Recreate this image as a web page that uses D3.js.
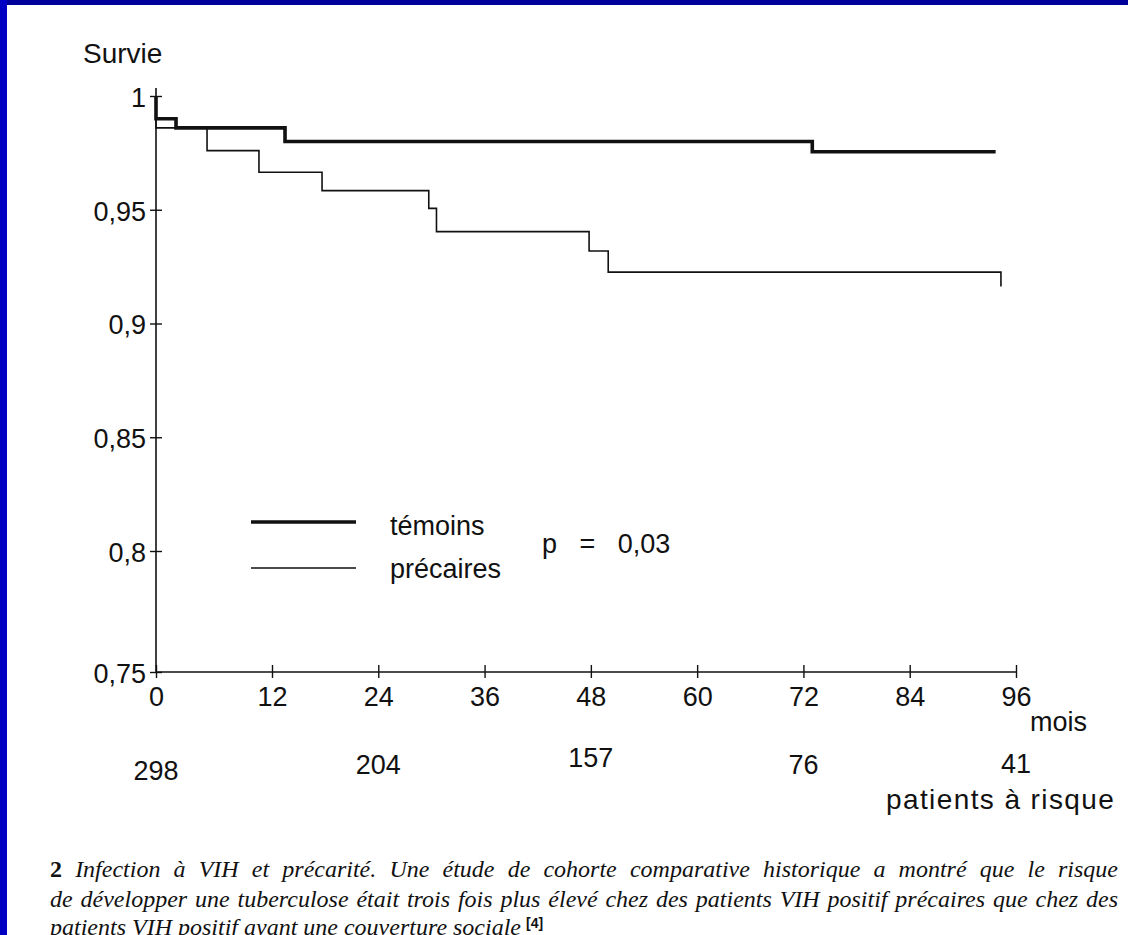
<!DOCTYPE html>
<html><head><meta charset="utf-8">
<script src="https://cdn.jsdelivr.net/npm/d3@7"></script>
<style>
html,body{margin:0;padding:0;background:#fff;}
svg{display:block;}
</style></head>
<body>
<svg id="chart" width="1128" height="935"></svg>
<script>
// ---- data ----
const xTicks = [0, 12, 24, 36, 48, 60, 72, 84, 96];
const xTickLabels = ["0", "12", "24", "36", "48", "60", "72", "84", "96"];
const yTicks = [0.75, 0.8, 0.85, 0.9, 0.95, 1];
const yTickLabels = ["0,75", "0,8", "0,85", "0,9", "0,95", "1"];

const temoinsTimes = [0, 0, 2.07, 13.47, 73.0, 93.7];
const temoinsSurv  = [1, 0.99, 0.986, 0.98, 0.9755, 0.9755];

const precairesTimes = [0, 0, 5.28, 10.65, 17.65, 29.7, 30.57, 47.8, 49.96, 94.3, 94.3];
const precairesSurv  = [1, 0.986, 0.976, 0.9665, 0.9584, 0.9506, 0.9404, 0.9319, 0.9226, 0.9226, 0.9163];

const riskTimes  = [0, 24, 48, 72, 96];
const riskCounts = ["298", "204", "157", "76", "41"];

const legendLabels = ["témoins", "précaires"];
const pValueLabel = "p   =   0,03";

const captionLine1 = ["Infection", "à", "VIH", "et", "précarité.", "Une", "étude", "de", "cohorte", "comparative", "historique", "a", "montré", "que", "le", "risque"];
const captionLine2 = ["de", "développer", "une", "tuberculose", "était", "trois", "fois", "plus", "élevé", "chez", "des", "patients", "VIH", "positif", "précaires", "que", "chez", "des"];
const captionLine3 = "patients VIH positif ayant une couverture sociale";

// ---- layout ----
const svg = d3.select("#chart");
const SANS = "'Liberation Sans', Arial, Helvetica, sans-serif";
const SERIF = "'Liberation Serif', 'Times New Roman', serif";
const INK = "#111";
const FS = 27;

svg.append("rect").attr("width", 1128).attr("height", 935).attr("fill", "#fff");
svg.append("rect").attr("x", 0).attr("y", 0).attr("width", 1128).attr("height", 5).attr("fill", "#00009a");
svg.append("rect").attr("x", 0).attr("y", 0).attr("width", 7).attr("height", 935).attr("fill", "#0000c4");

// piecewise scales follow the scanned axis spacing
const x = d3.scaleLinear().domain([0, 12, 96]).range([156, 272, 1016]);
const y = d3.scaleLinear().domain([0.75, 0.8, 1]).range([672, 551, 96]);

// y axis
const yAxis = svg.append("g").attr("transform", `translate(${x(0)},0)`)
  .call(d3.axisLeft(y).tickValues(yTicks).tickSize(0).tickPadding(10)
        .tickFormat((d, i) => yTickLabels[i]));
yAxis.select(".domain").remove();
yAxis.append("line").attr("x1", 0).attr("x2", 0).attr("y1", y(1) - 8).attr("y2", y(0.75))
  .attr("stroke", INK).attr("stroke-width", 1.6);
yAxis.selectAll(".tick").append("line").attr("x1", -6).attr("x2", 6).attr("stroke", INK).attr("stroke-width", 1.4);
yAxis.selectAll(".tick text").attr("font-family", SANS).attr("font-size", FS).attr("fill", INK)
  .attr("dy", "0.38em");

// x axis
const xAxis = svg.append("g").attr("transform", `translate(0,${y(0.75)})`)
  .call(d3.axisBottom(x).tickValues(xTicks).tickSize(0).tickPadding(0)
        .tickFormat((d, i) => xTickLabels[i]));
xAxis.select(".domain").remove();
xAxis.append("line").attr("x1", x(0)).attr("x2", x(96)).attr("y1", 0).attr("y2", 0)
  .attr("stroke", INK).attr("stroke-width", 1.6);
xAxis.selectAll(".tick").append("line").attr("y1", -7).attr("y2", 6).attr("stroke", INK).attr("stroke-width", 1.4);
xAxis.selectAll(".tick text").attr("font-family", SANS).attr("font-size", FS).attr("fill", INK)
  .attr("y", 34).attr("dy", 0);

// axis titles
svg.append("text").attr("x", 83).attr("y", 63).text("Survie")
  .attr("font-family", SANS).attr("font-size", 28).attr("fill", INK);
svg.append("text").attr("x", x(96) + 14).attr("y", 731).text("mois")
  .attr("font-family", SANS).attr("font-size", FS).attr("fill", INK);

// curves
const line = d3.line().x(d => x(d[0])).y(d => y(d[1])).curve(d3.curveStepAfter);
const temoins = temoinsTimes.map((t, i) => [t, temoinsSurv[i]]);
const precaires = precairesTimes.map((t, i) => [t, precairesSurv[i]]);
svg.append("path").datum(precaires).attr("d", line).attr("fill", "none")
  .attr("stroke", INK).attr("stroke-width", 1.6);
svg.append("path").datum(temoins).attr("d", line).attr("fill", "none")
  .attr("stroke", INK).attr("stroke-width", 3.6);

// legend
const legendWidths = [3.6, 1.4];
const lg = svg.append("g");
legendLabels.forEach((lab, i) => {
  const ly = 522 + i * 46;
  lg.append("line").attr("x1", 251).attr("x2", 356).attr("y1", ly).attr("y2", ly)
    .attr("stroke", INK).attr("stroke-width", legendWidths[i]);
  lg.append("text").attr("x", 390).attr("y", ly + 13 - i * 3).text(lab)
    .attr("font-family", SANS).attr("font-size", FS).attr("fill", INK);
});
svg.append("text").attr("x", 542).attr("y", 553).text(pValueLabel)
  .attr("font-family", SANS).attr("font-size", FS).attr("fill", INK)
  .style("white-space", "pre");

// patients at risk
const riskShift = [6, 0, -7, 0, -1];
svg.selectAll("text.risk").data(riskCounts).enter().append("text").attr("class", "risk")
  .attr("x", (d, i) => x(riskTimes[i])).attr("y", (d, i) => 774 + riskShift[i])
  .attr("text-anchor", "middle").text(d => d)
  .attr("font-family", SANS).attr("font-size", FS).attr("fill", INK);
svg.append("text").attr("x", 886).attr("y", 809).text("patients à risque")
  .attr("font-family", SANS).attr("font-size", 28).attr("letter-spacing", 1.4).attr("fill", INK);

// caption (justified)
const CAP_SIZE = 24;
function justify(words, x0, x1, yb, lead) {
  const g = svg.append("g");
  const items = [];
  if (lead) {
    items.push(g.append("text").text(lead).attr("font-family", SERIF).attr("font-size", CAP_SIZE)
      .attr("font-weight", "bold").attr("fill", INK).attr("y", yb));
  }
  words.forEach(w => {
    items.push(g.append("text").text(w).attr("font-family", SERIF).attr("font-size", CAP_SIZE)
      .attr("font-style", "italic").attr("fill", INK).attr("y", yb));
  });
  const widths = items.map(t => t.node().getComputedTextLength());
  const total = d3.sum(widths);
  const gap = (x1 - x0 - total) / (items.length - 1);
  let cx = x0;
  items.forEach((t, i) => { t.attr("x", cx); cx += widths[i] + gap; });
}
justify(captionLine1, 50, 1118, 877, "2");
justify(captionLine2, 50, 1118, 907, null);
const l3 = svg.append("text").attr("x", 50).attr("y", 935).attr("font-family", SERIF)
  .attr("font-size", CAP_SIZE).attr("font-style", "italic").attr("fill", INK).text(captionLine3);
const l3w = l3.node().getComputedTextLength();
svg.append("text").attr("x", 50 + l3w + 5).attr("y", 928).text("[4]")
  .attr("font-family", SANS).attr("font-size", 14).attr("font-weight", "bold").attr("fill", INK);
</script>
</body></html>
